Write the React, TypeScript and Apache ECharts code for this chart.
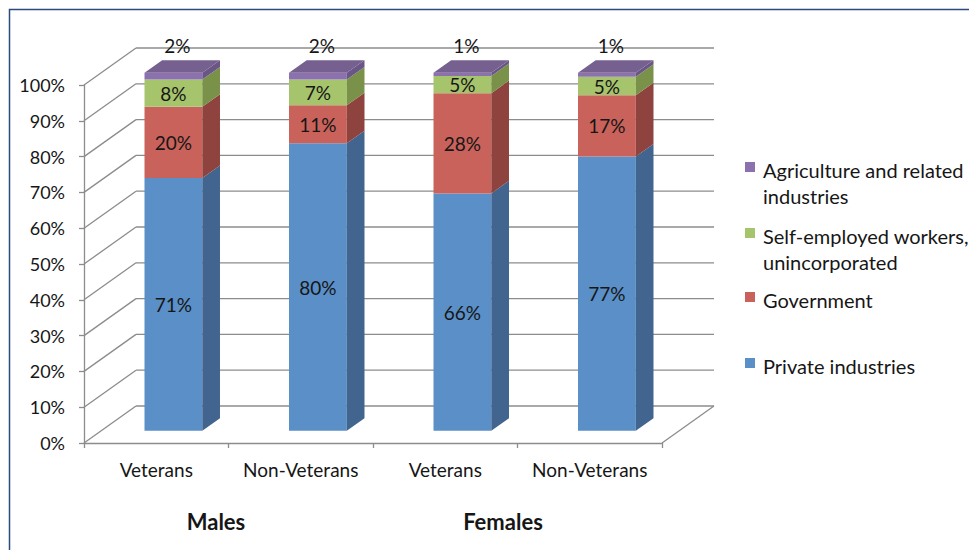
import React, { useEffect, useRef } from "react";
import * as echarts from "echarts";

const categories = ["Veterans", "Non-Veterans", "Veterans", "Non-Veterans"];
const groupNames = ["Males", "Females"];
const seriesNames = [
  "Private industries",
  "Government",
  "Self-employed workers, unincorporated",
  "Agriculture and related industries",
];
const legendLines = [
  "Agriculture and related\nindustries",
  "Self-employed workers,\nunincorporated",
  "Government",
  "Private industries",
];
const privateIndustries = [70.6, 80.3, 66.3, 76.6];
const government = [19.9, 10.6, 28.0, 17.1];
const selfEmployed = [7.6, 7.2, 4.8, 5.2];
const agriculture = [1.9, 1.9, 0.9, 1.1];
const yTicks = [0, 10, 20, 30, 40, 50, 60, 70, 80, 90, 100];

const frontColors = ["#5A8FC7", "#C9625B", "#A6C46C", "#8B72AE"];
const sideColors = ["#41658F", "#8E433E", "#7A9149", "#6A5686"];
const topColor = "#76608F";

const FONT = "Lato, 'Open Sans', sans-serif";
const GRID_LINE = "#8C8C8C";
const TEXT = "#161616";
// depth vector of the 3D box (back wall offset)
const DX = 52;
const DY = -37;
const BAR_F0 = 0.33;
const BAR_F1 = 0.67;
const BAR_W = 0.4;

export default function App() {
  const ref = useRef<HTMLDivElement>(null);

  useEffect(() => {
    if (!ref.current) return;
    const chart = echarts.init(ref.current, null, { renderer: "svg" });

    const allValues = [privateIndustries, government, selfEmployed, agriculture];
    const stacked = allValues.map((arr, s) =>
      arr.map((v, i) => {
        let start = 0;
        for (let k = 0; k < s; k++) start += allValues[k][i];
        return [i, start, start + v, v];
      })
    );

    const barSeries = stacked.map((data, s) => ({
      type: "custom",
      name: seriesNames[s],
      z: 3,
      data,
      encode: { x: 0, y: [1, 2] },
      renderItem: (params: any, api: any) => {
        const i = api.value(0);
        const s0 = api.value(1);
        const s1 = api.value(2);
        const v = api.value(3);
        const pB = api.coord([i, s0]);
        const pT = api.coord([i, s1]);
        const bw = api.size([1, 0])[0] * BAR_W;
        const fx = DX * BAR_F0;
        const fy = DY * BAR_F0;
        const sx = DX * (BAR_F1 - BAR_F0);
        const sy = DY * (BAR_F1 - BAR_F0);
        const xl = pB[0] - bw / 2 + fx;
        const xr = pB[0] + bw / 2 + fx;
        const yb = pB[1] + fy;
        const yt = pT[1] + fy;
        const children: any[] = [
          {
            type: "polygon",
            shape: { points: [[xl, yb], [xr, yb], [xr, yt], [xl, yt]] },
            style: { fill: frontColors[s] },
          },
          {
            type: "polygon",
            shape: { points: [[xr, yb], [xr + sx, yb + sy], [xr + sx, yt + sy], [xr, yt]] },
            style: { fill: sideColors[s] },
          },
        ];
        const isTop = s === allValues.length - 1;
        if (isTop) {
          children.push({
            type: "polygon",
            shape: { points: [[xl, yt], [xr, yt], [xr + sx, yt + sy], [xl + sx, yt + sy]] },
            style: { fill: topColor },
          });
        }
        const label = Math.round(v) + "%";
        children.push({
          type: "text",
          x: isTop ? (xl + xr) / 2 + 4 : (xl + xr) / 2,
          y: isTop ? yt + sy - 15 : (yb + yt) / 2,
          style: {
            text: label,
            fill: TEXT,
            font: `19px ${FONT}`,
            align: "center",
            verticalAlign: "middle",
          },
        });
        return { type: "group", children };
      },
    }));

    const wallSeries = {
      type: "custom",
      z: 1,
      silent: true,
      data: yTicks.map((t) => [0, t]),
      encode: { x: 0, y: 1 },
      renderItem: (params: any, api: any) => {
        const cs = params.coordSys;
        const t = api.value(1);
        const y = api.coord([0, t])[1];
        const x0 = cs.x;
        const x1 = cs.x + cs.width;
        const ls = { stroke: GRID_LINE, lineWidth: 1.3 };
        const children: any[] = [
          { type: "line", shape: { x1: x0 + DX, y1: y + DY, x2: x1 + DX, y2: y + DY }, style: ls },
          { type: "line", shape: { x1: x0, y1: y, x2: x0 + DX, y2: y + DY }, style: ls },
        ];
        if (t === 0) {
          children.push({
            type: "line",
            shape: { x1: x1, y1: y, x2: x1 + DX, y2: y + DY },
            style: ls,
          });
        }
        return { type: "group", children };
      },
    };

    const legendX = 745;
    const legendTops = [171, 237, 301, 367];
    const legendGraphics: any[] = [];
    legendLines.forEach((txt, k) => {
      const colorIdx = 3 - k;
      legendGraphics.push({
        type: "rect",
        shape: { x: legendX, y: legendTops[k] - 9, width: 10, height: 10 },
        style: { fill: frontColors[colorIdx] },
      });
      legendGraphics.push({
        type: "text",
        x: 763,
        y: legendTops[k] - 14,
        style: {
          text: txt,
          fill: TEXT,
          font: `20px ${FONT}`,
          lineHeight: 26,
          align: "left",
          verticalAlign: "top",
        },
      });
    });

    chart.setOption({
      animation: false,
      backgroundColor: "#ffffff",
      grid: { left: 84, top: 85, width: 578, height: 358, containLabel: false },
      xAxis: {
        type: "category",
        data: categories,
        boundaryGap: true,
        axisLine: { show: true, lineStyle: { color: GRID_LINE, width: 1.3 } },
        axisTick: { show: true, alignWithLabel: false, interval: 0, length: 5, lineStyle: { color: GRID_LINE, width: 1.3 } },
        axisLabel: { interval: 0, margin: 17, color: TEXT, fontFamily: FONT, fontSize: 19 },
        splitLine: { show: false },
      },
      yAxis: {
        type: "value",
        min: 0,
        max: 100,
        interval: 10,
        axisLine: { show: true, lineStyle: { color: GRID_LINE, width: 1.3 } },
        axisTick: { show: true, length: 5, lineStyle: { color: GRID_LINE, width: 1.3 } },
        axisLabel: { formatter: "{value}%", margin: 19, color: TEXT, fontFamily: FONT, fontSize: 18 },
        splitLine: { show: false },
      },
      graphic: [
        {
          type: "rect",
          shape: { x: 9.5, y: 9.5, width: 1100, height: 1100 },
          style: { fill: "none", stroke: "#2B4A7E", lineWidth: 1.5 },
          silent: true,
        },
        {
          type: "text",
          x: 216,
          y: 521,
          style: { text: groupNames[0], fill: TEXT, font: `bold 22px ${FONT}`, align: "center", verticalAlign: "middle" },
        },
        {
          type: "text",
          x: 503,
          y: 521,
          style: { text: groupNames[1], fill: TEXT, font: `bold 22px ${FONT}`, align: "center", verticalAlign: "middle" },
        },
        ...legendGraphics,
      ],
      series: [wallSeries, ...barSeries],
    });

    return () => chart.dispose();
  }, []);

  return (
    <div
      ref={ref}
      style={{ position: "absolute", left: 0, top: 0, width: 969, height: 550 }}
    />
  );
}
